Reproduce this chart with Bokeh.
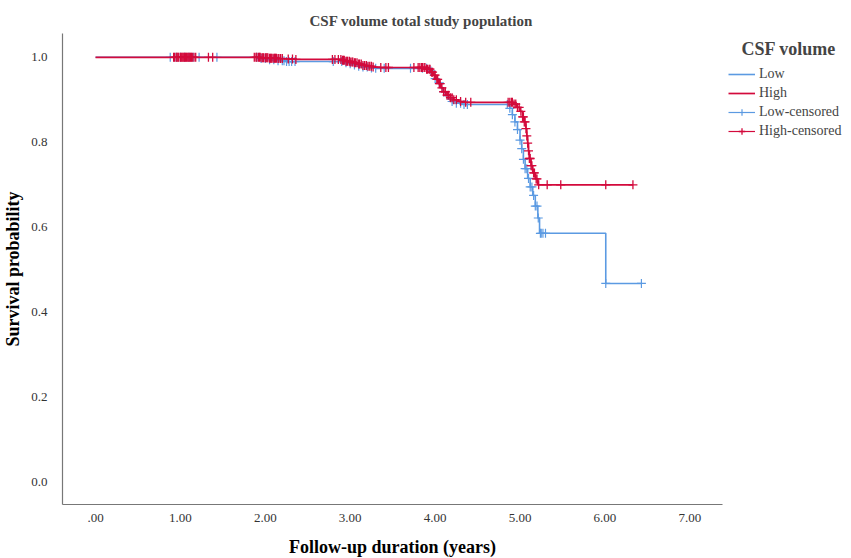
import numpy as np
from bokeh.plotting import figure
from bokeh.models import Legend, LegendItem, FixedTicker, Range1d, Title
from bokeh.embed import file_html
from bokeh.resources import INLINE

# ---- Data ----
high_times = [0.0, 1.95, 2.05, 2.15, 2.25, 2.35, 2.9, 2.95, 3.0, 3.05, 3.1, 3.15, 3.2, 3.27, 3.35,
              3.9, 3.95, 3.98, 4.01, 4.04, 4.07, 4.1, 4.14, 4.18, 4.22, 4.28, 4.35,
              4.92, 4.96, 5.0, 5.03, 5.05, 5.07, 5.08, 5.09, 5.1, 5.11, 5.13, 5.15, 5.18, 5.21]
high_surv = [1.0, 0.999, 0.998, 0.997, 0.996, 0.995, 0.993, 0.991, 0.989, 0.987, 0.984, 0.981, 0.979, 0.977, 0.976,
             0.972, 0.965, 0.958, 0.948, 0.938, 0.928, 0.919, 0.911, 0.905, 0.900, 0.896, 0.894,
             0.890, 0.882, 0.873, 0.860, 0.848, 0.832, 0.815, 0.798, 0.780, 0.762, 0.745, 0.728, 0.714, 0.700]
high_censor = [0.92, 0.93, 0.95, 0.96, 0.97, 0.98, 1.0, 1.01, 1.02, 1.03, 1.04, 1.05, 1.06, 1.07, 1.08,
               1.09, 1.1, 1.11, 1.12, 1.13, 1.14, 1.16, 1.18, 1.33, 1.38,
               1.87, 1.89, 1.9, 1.92, 1.93, 1.94, 1.96, 1.97, 1.98, 2.0, 2.01, 2.02, 2.03, 2.05, 2.06,
               2.07, 2.08, 2.1, 2.11, 2.12, 2.13, 2.15, 2.16, 2.18, 2.2, 2.27, 2.32, 2.36,
               2.79, 2.82, 2.86, 2.89, 2.91, 2.92, 2.93, 2.95, 2.96, 2.97, 2.99, 3.0, 3.02, 3.03, 3.05,
               3.06, 3.08, 3.1, 3.11, 3.13, 3.15, 3.17, 3.19, 3.21, 3.23, 3.25, 3.27, 3.36, 3.42, 3.45,
               3.75, 3.8, 3.82, 3.84, 3.85, 3.87, 3.88, 3.9, 3.91, 3.93, 3.94, 3.96, 3.97, 3.99, 4.0,
               4.02, 4.03, 4.05, 4.06, 4.08, 4.1, 4.12, 4.14, 4.16, 4.18, 4.2, 4.22, 4.25, 4.3, 4.36, 4.42,
               4.86, 4.88, 4.9, 4.91, 4.93, 4.95, 4.97, 4.99, 5.01, 5.03, 5.04, 5.05, 5.06, 5.07, 5.08,
               5.09, 5.1, 5.11, 5.12, 5.13, 5.14, 5.16, 5.17, 5.19, 5.2, 5.22, 5.32, 5.48, 6.01, 6.33]

low_times = [0.0, 1.95, 2.05, 2.15, 2.25, 2.95, 3.0, 3.05, 3.1, 3.15, 3.22, 3.3,
             3.92, 3.96, 4.0, 4.03, 4.06, 4.09, 4.12, 4.16, 4.2, 4.25, 4.32,
             4.88, 4.91, 4.94, 4.97, 5.0, 5.02, 5.04, 5.06, 5.09, 5.12, 5.15, 5.18, 5.21, 5.23, 6.01]
low_surv = [1.0, 0.997, 0.994, 0.992, 0.990, 0.987, 0.985, 0.982, 0.979, 0.977, 0.975, 0.974,
            0.968, 0.960, 0.950, 0.940, 0.929, 0.919, 0.910, 0.902, 0.896, 0.892, 0.889,
            0.880, 0.865, 0.848, 0.830, 0.805, 0.785, 0.760, 0.738, 0.715, 0.695, 0.675, 0.650, 0.622, 0.586, 0.468]
low_censor = [0.88, 0.95, 1.0, 1.05, 1.1, 1.15, 1.22, 1.43,
              1.9, 1.95, 2.0, 2.05, 2.1, 2.15, 2.2, 2.22, 2.25, 2.28, 2.31, 2.35,
              2.8, 2.9, 2.95, 3.0, 3.05, 3.1, 3.15, 3.2, 3.25, 3.3, 3.4, 3.71,
              3.85, 3.9, 3.95, 4.0, 4.05, 4.1, 4.15, 4.2, 4.25, 4.3, 4.34, 4.38,
              4.85, 4.88, 4.91, 4.94, 4.97, 5.0, 5.02, 5.04, 5.06, 5.08, 5.1, 5.12, 5.14, 5.16,
              5.18, 5.2, 5.215, 5.24, 5.25, 5.27, 5.3, 6.01, 6.43]

x_ticks = [0, 1, 2, 3, 4, 5, 6, 7]
x_tick_labels = [".00", "1.00", "2.00", "3.00", "4.00", "5.00", "6.00", "7.00"]
y_ticks = [0.0, 0.2, 0.4, 0.6, 0.8, 1.0]
y_tick_labels = ["0.0", "0.2", "0.4", "0.6", "0.8", "1.0"]

LOW_COLOR = "#5b9ae2"
HIGH_COLOR = "#d30a3c"
SERIF = "Liberation Serif"


def step_data(times, surv, censors):
    end = max(censors)
    xs = list(times) + [end]
    ys = list(surv) + [surv[-1]]
    t = np.array(times)
    idx = np.searchsorted(t, np.array(censors), side="right") - 1
    cy = [surv[i] for i in idx]
    return xs, ys, cy


p = figure(frame_width=660, frame_height=471, output_backend="svg", toolbar_location=None,
           x_range=Range1d(-0.389, 7.385), y_range=Range1d(-0.052, 1.056),
           min_border_left=62, min_border_right=129, min_border_top=33, min_border_bottom=54)
p.title = None
t = Title(text="CSF volume total study population", align="left", offset=247,
          text_font=SERIF, text_font_size="15px", text_font_style="bold", standoff=10)
p.add_layout(t, "above")

lx, ly, lcy = step_data(low_times, low_surv, low_censor)
hx, hy, hcy = step_data(high_times, high_surv, high_censor)

r_low = p.step(lx, ly, mode="after", line_color=LOW_COLOR, line_width=1.6)
r_lowc = p.scatter(low_censor, lcy, marker="cross", size=9, line_color=LOW_COLOR, line_width=1.2)
r_high = p.step(hx, hy, mode="after", line_color=HIGH_COLOR, line_width=1.7)
r_highc = p.scatter(high_censor, hcy, marker="cross", size=9, line_color=HIGH_COLOR, line_width=1.3)

# legend helper renderers (line through cross)
leg_l = p.line([np.nan], [np.nan], line_color=LOW_COLOR, line_width=1.2)
leg_h = p.line([np.nan], [np.nan], line_color=HIGH_COLOR, line_width=1.2)

legend = Legend(items=[
    LegendItem(label="Low", renderers=[r_low]),
    LegendItem(label="High", renderers=[r_high]),
    LegendItem(label="Low-censored", renderers=[leg_l, r_lowc]),
    LegendItem(label="High-censored", renderers=[leg_h, r_highc]),
], title="\u00a0\u00a0\u00a0CSF volume", location="top_left")
legend.title_text_font = SERIF
legend.title_text_font_size = "18px"
legend.title_text_font_style = "bold"
legend.title_standoff = 6
legend.label_text_font = SERIF
legend.label_text_font_size = "14px"
legend.glyph_width = 27
legend.glyph_height = 16
legend.label_height = 16
legend.spacing = 3
legend.label_standoff = 4
legend.margin = 6
legend.padding = 0
legend.border_line_color = None
legend.background_fill_alpha = 0
p.add_layout(legend, "right")

for ax in (p.xaxis[0], p.yaxis[0]):
    ax.major_tick_line_color = None
    ax.minor_tick_line_color = None
    ax.major_tick_out = 0
    ax.major_tick_in = 0
    ax.minor_tick_out = 0
    ax.minor_tick_in = 0
    ax.axis_line_color = "#777777"
    ax.axis_line_width = 1.2
    ax.major_label_text_font = SERIF
    ax.major_label_text_font_size = "13px"
    ax.major_label_text_color = "#333333"
    ax.axis_label_text_font = SERIF
    ax.axis_label_text_font_size = "18px"
    ax.axis_label_text_font_style = "bold"
    ax.axis_label_text_color = "black"

p.xaxis.ticker = FixedTicker(ticks=x_ticks)
p.xaxis.major_label_overrides = {tk: lb for tk, lb in zip(x_ticks, x_tick_labels)}
p.yaxis.ticker = FixedTicker(ticks=y_ticks)
p.yaxis.major_label_overrides = {tk: lb for tk, lb in zip(y_ticks, y_tick_labels)}
p.xaxis.axis_label = "Follow-up duration (years)"
p.yaxis.axis_label = "Survival probability"
p.xaxis.major_label_standoff = 9
p.xaxis.axis_label_standoff = 12
p.yaxis.major_label_standoff = 15
p.yaxis.axis_label_standoff = 5

p.xgrid.grid_line_color = None
p.ygrid.grid_line_color = None
p.outline_line_color = None

open("out.html", "w").write(file_html(p, INLINE))
